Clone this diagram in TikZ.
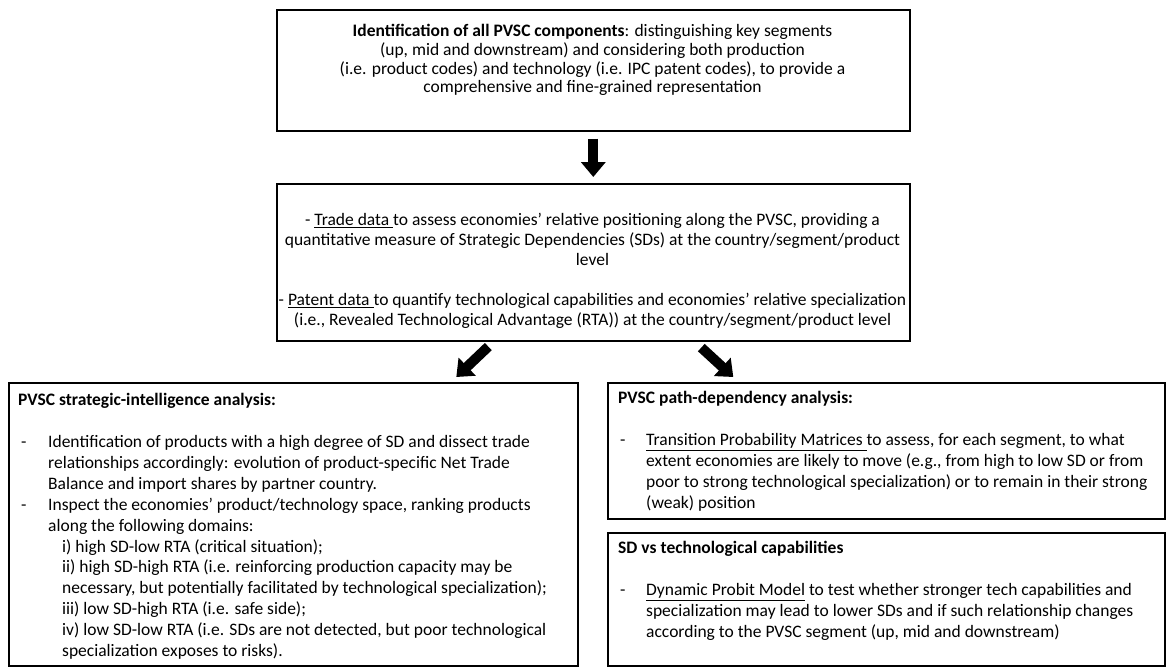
\documentclass[tikz,border=0pt]{standalone}
\usepackage{fontspec}
\setmainfont{Carlito}
\usetikzlibrary{arrows.meta}
\newcommand\bdashL{\makebox[30pt][l]{\hspace*{3pt}-}}
\newcommand\bindL{\hspace*{30pt}}
\newcommand\bsubL{\hspace*{44pt}}
\newcommand\bdashR{\makebox[28pt][l]{\hspace*{2pt}-}}
\newcommand\bindR{\hspace*{28pt}}
\newcommand\firstline{\rule{0pt}{15pt}}
\begin{document}
\begin{tikzpicture}[x=1pt,y=-1pt,
  box/.style={draw=black, line width=1.6pt, rectangle, anchor=north west, inner sep=0pt},
  bigarrow/.style={line width=10pt, -{Triangle[width=24pt,length=15pt]}},
  ctextA/.style={anchor=north, align=center, inner sep=0pt, font=\fontsize{17.5}{18.7}\selectfont},
  ctextB/.style={anchor=north, align=center, inner sep=0pt, font=\fontsize{17.5}{20}\selectfont},
  ltext/.style={anchor=north west, align=left, inner sep=0pt, font=\fontsize{17.5}{20.9}\selectfont},
]
\useasboundingbox[fill=white] (0,0) rectangle (1167,667);

% boxes
\node[box, minimum width=633pt, minimum height=121pt] (b1) at (276,9) {};
\node[box, minimum width=633pt, minimum height=157pt] (b2) at (276,183) {};
\node[box, minimum width=569pt, minimum height=283pt] (b3) at (8,382) {};
\node[box, minimum width=557pt, minimum height=136pt] (b4) at (607,382) {};
\node[box, minimum width=557pt, minimum height=133pt] (b5) at (607,532) {};

% texts
\node[ctextA] (t1) at (592.5,21.5) {\firstline\textbf{Identification of all PVSC components}: distinguishing key segments\\
(up, mid and downstream) and considering both production\\
(i.e. product codes) and technology (i.e. IPC patent codes), to provide a\\
comprehensive and fine-grained representation};

\node[ctextB] (t2) at (592.5,210) {\firstline- \underline{Trade data }to assess economies’ relative positioning along the PVSC, providing a\\
quantitative measure of Strategic Dependencies (SDs) at the country/segment/product\\
level\\
\\
- \underline{Patent data }to quantify technological capabilities and economies’ relative specialization\\
(i.e., Revealed Technological Advantage (RTA)) at the country/segment/product level};

\node[ltext] (t3) at (18,390.5) {\firstline\textbf{PVSC strategic-intelligence analysis:}\\
\\
\bdashL Identification of products with a high degree of SD and dissect trade\\
\bindL relationships accordingly: evolution of product-specific Net Trade\\
\bindL Balance and import shares by partner country.\\
\bdashL Inspect the economies’ product/technology space, ranking products\\
\bindL along the following domains:\\
\bsubL i) high SD-low RTA (critical situation);\\
\bsubL ii) high SD-high RTA (i.e. reinforcing production capacity may be\\
\bsubL necessary, but potentially facilitated by technological specialization);\\
\bsubL iii) low SD-high RTA (i.e. safe side);\\
\bsubL iv) low SD-low RTA (i.e. SDs are not detected, but poor technological\\
\bsubL specialization exposes to risks).};

\node[ltext] (t4) at (618,388.5) {\firstline\textbf{PVSC path-dependency analysis:}\\
\\
\bdashR\underline{Transition Probability Matrices }to assess, for each segment, to what\\
\bindR extent economies are likely to move (e.g., from high to low SD or from\\
\bindR poor to strong technological specialization) or to remain in their strong\\
\bindR (weak) position};

\node[ltext] (t5) at (618,538.5) {\firstline\textbf{SD vs technological capabilities}\\
\\
\bdashR\underline{Dynamic Probit Model} to test whether stronger tech capabilities and\\
\bindR specialization may lead to lower SDs and if such relationship changes\\
\bindR according to the PVSC segment (up, mid and downstream)};

% arrows
\draw[bigarrow] ([yshift=-7pt]b1.south) -- ([yshift=6pt]b2.north);
\draw[bigarrow] ([xshift=-105pt,yshift=-5pt]b2.south) -- ([xshift=163pt,yshift=5pt]b3.north);
\draw[bigarrow] ([xshift=108pt,yshift=-6pt]b2.south) -- ([xshift=-153pt,yshift=5pt]b4.north);
\end{tikzpicture}
\end{document}
